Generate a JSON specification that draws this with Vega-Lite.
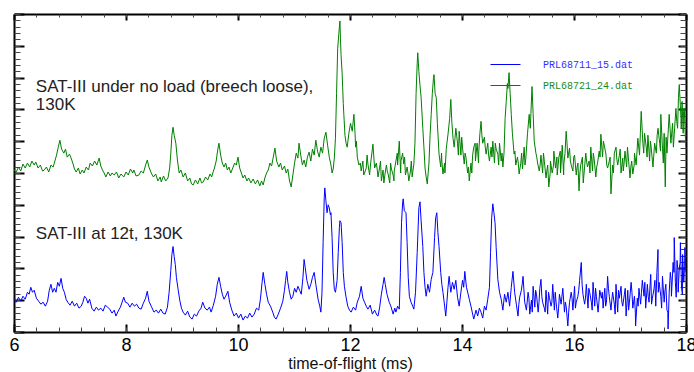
{
"$schema": "https://vega.github.io/schema/vega-lite/v6.json",
"width": 672, "height": 318,
"autosize": {"type": "none"},
"padding": {"left": 14, "top": 14, "right": 8, "bottom": 40},
"config": {"view": {"stroke": null}, "font": "Liberation Sans", "axis": {"grid": false, "tickColor": "#000", "domainColor": "#000"}},
"resolve": {"axis": {"x": "independent", "y": "independent"}},
"layer": [
{"data": {"values": [
{"t":6.00,"v":33},{"t":6.04,"v":30},{"t":6.08,"v":35},{"t":6.12,"v":31},{"t":6.16,"v":36},{"t":6.20,"v":33},{"t":6.24,"v":40},{"t":6.27,"v":38},{"t":6.30,"v":45},{"t":6.33,"v":40},{"t":6.36,"v":42},{"t":6.40,"v":34},{"t":6.44,"v":31},{"t":6.48,"v":28},{"t":6.52,"v":30},{"t":6.56,"v":26},{"t":6.60,"v":31},{"t":6.63,"v":42},{"t":6.66,"v":48},{"t":6.69,"v":40},{"t":6.72,"v":44},{"t":6.75,"v":40},{"t":6.78,"v":50},{"t":6.81,"v":46},{"t":6.84,"v":54},{"t":6.87,"v":44},{"t":6.90,"v":40},{"t":6.93,"v":33},{"t":6.96,"v":30},{"t":7.00,"v":27},{"t":7.04,"v":31},{"t":7.08,"v":26},{"t":7.12,"v":29},{"t":7.16,"v":24},{"t":7.20,"v":26},{"t":7.23,"v":30},{"t":7.26,"v":36},{"t":7.29,"v":34},{"t":7.32,"v":29},{"t":7.35,"v":33},{"t":7.39,"v":24},{"t":7.43,"v":21},{"t":7.47,"v":25},{"t":7.51,"v":22},{"t":7.55,"v":24},{"t":7.59,"v":21},{"t":7.63,"v":27},{"t":7.67,"v":25},{"t":7.71,"v":23},{"t":7.75,"v":19},{"t":7.79,"v":22},{"t":7.82,"v":16},{"t":7.86,"v":21},{"t":7.90,"v":25},{"t":7.93,"v":30},{"t":7.96,"v":35},{"t":7.99,"v":30},{"t":8.03,"v":29},{"t":8.07,"v":25},{"t":8.11,"v":29},{"t":8.15,"v":26},{"t":8.19,"v":28},{"t":8.23,"v":24},{"t":8.27,"v":23},{"t":8.31,"v":29},{"t":8.35,"v":34},{"t":8.38,"v":41},{"t":8.41,"v":31},{"t":8.45,"v":26},{"t":8.50,"v":20},{"t":8.54,"v":22},{"t":8.58,"v":19},{"t":8.62,"v":23},{"t":8.66,"v":19},{"t":8.70,"v":18},{"t":8.74,"v":25},{"t":8.77,"v":40},{"t":8.80,"v":62},{"t":8.82,"v":78},{"t":8.84,"v":86},{"t":8.86,"v":76},{"t":8.88,"v":68},{"t":8.90,"v":55},{"t":8.93,"v":43},{"t":8.96,"v":32},{"t":8.99,"v":24},{"t":9.02,"v":20},{"t":9.06,"v":17},{"t":9.10,"v":21},{"t":9.14,"v":15},{"t":9.18,"v":13},{"t":9.22,"v":18},{"t":9.26,"v":16},{"t":9.30,"v":21},{"t":9.34,"v":24},{"t":9.37,"v":30},{"t":9.41,"v":24},{"t":9.45,"v":22},{"t":9.49,"v":25},{"t":9.52,"v":20},{"t":9.56,"v":27},{"t":9.60,"v":36},{"t":9.63,"v":48},{"t":9.66,"v":55},{"t":9.69,"v":46},{"t":9.72,"v":38},{"t":9.75,"v":33},{"t":9.78,"v":36},{"t":9.82,"v":41},{"t":9.85,"v":30},{"t":9.89,"v":22},{"t":9.93,"v":16},{"t":9.97,"v":19},{"t":10.01,"v":14},{"t":10.05,"v":18},{"t":10.09,"v":12},{"t":10.13,"v":16},{"t":10.17,"v":14},{"t":10.21,"v":19},{"t":10.25,"v":15},{"t":10.29,"v":18},{"t":10.33,"v":24},{"t":10.37,"v":22},{"t":10.40,"v":33},{"t":10.43,"v":50},{"t":10.45,"v":60},{"t":10.48,"v":48},{"t":10.51,"v":38},{"t":10.54,"v":30},{"t":10.58,"v":26},{"t":10.62,"v":20},{"t":10.65,"v":15},{"t":10.68,"v":13},{"t":10.72,"v":18},{"t":10.76,"v":24},{"t":10.80,"v":31},{"t":10.83,"v":42},{"t":10.85,"v":52},{"t":10.87,"v":61},{"t":10.89,"v":50},{"t":10.92,"v":40},{"t":10.95,"v":33},{"t":10.98,"v":36},{"t":11.01,"v":44},{"t":11.04,"v":40},{"t":11.07,"v":46},{"t":11.10,"v":42},{"t":11.13,"v":38},{"t":11.16,"v":55},{"t":11.18,"v":73},{"t":11.20,"v":65},{"t":11.23,"v":52},{"t":11.27,"v":43},{"t":11.30,"v":48},{"t":11.33,"v":55},{"t":11.36,"v":60},{"t":11.39,"v":48},{"t":11.43,"v":33},{"t":11.46,"v":26},{"t":11.48,"v":20},{"t":11.50,"v":40},{"t":11.52,"v":90},{"t":11.54,"v":135},{"t":11.55,"v":145},{"t":11.57,"v":132},{"t":11.59,"v":120},{"t":11.61,"v":128},{"t":11.63,"v":125},{"t":11.65,"v":118},{"t":11.66,"v":120},{"t":11.68,"v":95},{"t":11.70,"v":60},{"t":11.72,"v":43},{"t":11.74,"v":40},{"t":11.77,"v":52},{"t":11.79,"v":80},{"t":11.81,"v":105},{"t":11.82,"v":112},{"t":11.84,"v":110},{"t":11.86,"v":90},{"t":11.88,"v":60},{"t":11.90,"v":46},{"t":11.93,"v":35},{"t":11.96,"v":26},{"t":11.99,"v":22},{"t":12.02,"v":20},{"t":12.06,"v":25},{"t":12.10,"v":22},{"t":12.13,"v":30},{"t":12.17,"v":36},{"t":12.20,"v":46},{"t":12.23,"v":34},{"t":12.26,"v":30},{"t":12.29,"v":26},{"t":12.32,"v":23},{"t":12.36,"v":27},{"t":12.40,"v":18},{"t":12.44,"v":22},{"t":12.48,"v":17},{"t":12.50,"v":16},{"t":12.53,"v":25},{"t":12.56,"v":38},{"t":12.59,"v":48},{"t":12.61,"v":55},{"t":12.63,"v":48},{"t":12.66,"v":38},{"t":12.70,"v":30},{"t":12.73,"v":26},{"t":12.77,"v":18},{"t":12.80,"v":24},{"t":12.82,"v":20},{"t":12.85,"v":26},{"t":12.88,"v":23},{"t":12.90,"v":60},{"t":12.92,"v":110},{"t":12.94,"v":130},{"t":12.95,"v":134},{"t":12.97,"v":122},{"t":13.00,"v":120},{"t":13.02,"v":90},{"t":13.04,"v":55},{"t":13.06,"v":36},{"t":13.09,"v":30},{"t":13.12,"v":26},{"t":13.14,"v":23},{"t":13.17,"v":40},{"t":13.20,"v":80},{"t":13.23,"v":125},{"t":13.25,"v":131},{"t":13.27,"v":112},{"t":13.30,"v":86},{"t":13.32,"v":60},{"t":13.34,"v":45},{"t":13.36,"v":36},{"t":13.39,"v":48},{"t":13.42,"v":40},{"t":13.45,"v":53},{"t":13.48,"v":60},{"t":13.51,"v":95},{"t":13.53,"v":115},{"t":13.55,"v":120},{"t":13.57,"v":100},{"t":13.59,"v":86},{"t":13.62,"v":60},{"t":13.64,"v":48},{"t":13.66,"v":40},{"t":13.69,"v":26},{"t":13.71,"v":16},{"t":13.73,"v":30},{"t":13.75,"v":45},{"t":13.77,"v":56},{"t":13.80,"v":40},{"t":13.83,"v":50},{"t":13.86,"v":43},{"t":13.89,"v":52},{"t":13.92,"v":35},{"t":13.95,"v":26},{"t":13.98,"v":40},{"t":14.01,"v":52},{"t":14.03,"v":45},{"t":14.05,"v":61},{"t":14.08,"v":45},{"t":14.11,"v":38},{"t":14.13,"v":33},{"t":14.16,"v":26},{"t":14.19,"v":18},{"t":14.21,"v":13},{"t":14.25,"v":22},{"t":14.28,"v":16},{"t":14.31,"v":24},{"t":14.34,"v":20},{"t":14.37,"v":14},{"t":14.40,"v":26},{"t":14.43,"v":22},{"t":14.46,"v":33},{"t":14.49,"v":45},{"t":14.51,"v":80},{"t":14.53,"v":115},{"t":14.55,"v":129},{"t":14.57,"v":120},{"t":14.59,"v":110},{"t":14.61,"v":85},{"t":14.64,"v":53},{"t":14.67,"v":40},{"t":14.70,"v":33},{"t":14.73,"v":22},{"t":14.76,"v":38},{"t":14.79,"v":30},{"t":14.82,"v":40},{"t":14.85,"v":26},{"t":14.88,"v":45},{"t":14.91,"v":61},{"t":14.94,"v":40},{"t":14.97,"v":28},{"t":15.00,"v":16},{"t":15.03,"v":35},{"t":15.06,"v":42},{"t":15.09,"v":56},{"t":15.12,"v":30},{"t":15.15,"v":22},{"t":15.18,"v":40},{"t":15.21,"v":18},{"t":15.24,"v":32},{"t":15.27,"v":46},{"t":15.30,"v":25},{"t":15.33,"v":38},{"t":15.36,"v":20},{"t":15.39,"v":44},{"t":15.41,"v":53},{"t":15.44,"v":30},{"t":15.47,"v":24},{"t":15.50,"v":42},{"t":15.53,"v":18},{"t":15.56,"v":35},{"t":15.59,"v":26},{"t":15.62,"v":48},{"t":15.65,"v":22},{"t":15.68,"v":30},{"t":15.71,"v":14},{"t":15.74,"v":38},{"t":15.77,"v":28},{"t":15.80,"v":44},{"t":15.83,"v":20},{"t":15.86,"v":26},{"t":15.89,"v":6},{"t":15.92,"v":30},{"t":15.95,"v":40},{"t":15.98,"v":22},{"t":16.01,"v":46},{"t":16.04,"v":30},{"t":16.07,"v":36},{"t":16.10,"v":52},{"t":16.13,"v":70},{"t":16.16,"v":38},{"t":16.19,"v":28},{"t":16.22,"v":48},{"t":16.25,"v":24},{"t":16.28,"v":40},{"t":16.31,"v":30},{"t":16.34,"v":50},{"t":16.37,"v":26},{"t":16.40,"v":36},{"t":16.43,"v":20},{"t":16.46,"v":42},{"t":16.49,"v":34},{"t":16.52,"v":24},{"t":16.55,"v":44},{"t":16.58,"v":30},{"t":16.60,"v":56},{"t":16.63,"v":36},{"t":16.66,"v":22},{"t":16.69,"v":40},{"t":16.72,"v":28},{"t":16.75,"v":48},{"t":16.78,"v":20},{"t":16.81,"v":34},{"t":16.84,"v":46},{"t":16.87,"v":26},{"t":16.90,"v":38},{"t":16.93,"v":16},{"t":16.96,"v":42},{"t":16.99,"v":30},{"t":17.02,"v":50},{"t":17.05,"v":24},{"t":17.08,"v":36},{"t":17.10,"v":6},{"t":17.13,"v":34},{"t":17.16,"v":44},{"t":17.19,"v":28},{"t":17.22,"v":52},{"t":17.25,"v":36},{"t":17.28,"v":24},{"t":17.31,"v":48},{"t":17.34,"v":30},{"t":17.37,"v":58},{"t":17.40,"v":34},{"t":17.43,"v":44},{"t":17.46,"v":26},{"t":17.48,"v":60},{"t":17.50,"v":83},{"t":17.52,"v":50},{"t":17.55,"v":36},{"t":17.58,"v":56},{"t":17.61,"v":30},{"t":17.64,"v":48},{"t":17.66,"v":22},{"t":17.68,"v":3},{"t":17.70,"v":40},{"t":17.72,"v":60},{"t":17.74,"v":36},{"t":17.77,"v":70},{"t":17.79,"v":95},{"t":17.81,"v":50},{"t":17.84,"v":72},{"t":17.86,"v":40},{"t":17.88,"v":64},{"t":17.90,"v":90},{"t":17.92,"v":45},{"t":17.94,"v":78},{"t":17.96,"v":50},{"t":17.98,"v":85},{"t":18.00,"v":60},
{"t":15.015,"v":28},{"t":15.075,"v":48},{"t":15.135,"v":26},{"t":15.195,"v":34},{"t":15.255,"v":20},{"t":15.315,"v":42},{"t":15.375,"v":30},{"t":15.425,"v":36},{"t":15.485,"v":20},{"t":15.545,"v":40},{"t":15.605,"v":30},{"t":15.665,"v":40},{"t":15.725,"v":24},{"t":15.785,"v":36},{"t":15.845,"v":30},{"t":15.905,"v":20},{"t":15.965,"v":34},{"t":16.025,"v":24},{"t":16.085,"v":42},{"t":16.145,"v":48},{"t":16.205,"v":34},{"t":16.265,"v":44},{"t":16.325,"v":22},{"t":16.385,"v":44},{"t":16.445,"v":30},{"t":16.505,"v":40},{"t":16.565,"v":26},{"t":16.615,"v":44},{"t":16.675,"v":32},{"t":16.735,"v":18},{"t":16.795,"v":42},{"t":16.855,"v":30},{"t":16.915,"v":44},{"t":16.975,"v":22},{"t":17.035,"v":40},{"t":17.095,"v":20},{"t":17.145,"v":26},{"t":17.205,"v":40},{"t":17.265,"v":50},{"t":17.325,"v":36},{"t":17.385,"v":28},{"t":17.445,"v":52},{"t":17.505,"v":40},{"t":17.565,"v":24},{"t":17.625,"v":42},{"t":17.675,"v":20},{"t":17.735,"v":52},{"t":17.785,"v":60},{"t":17.825,"v":35},{"t":17.855,"v":62},{"t":17.895,"v":70},{"t":17.935,"v":38},{"t":17.975,"v":66}
]},
"mark": {"type": "line", "strokeWidth": 1, "clip": true},
"encoding": {
"x": {"field": "t", "type": "quantitative", "scale": {"domain": [6, 18], "nice": false, "zero": false},
 "axis": {"orient": "bottom", "values": [6,8,10,12,14,16,18], "tickSize": -8, "tickWidth": 2, "domainWidth": 2, "labelPadding": 12, "labelFlush": false, "labelBound": false, "labelFontSize": 18, "labelColor": "#000", "labelFont": "Liberation Sans", "title": "time-of-flight (ms)", "titleFontSize": 16, "titleFontWeight": "normal", "titleColor": "#111", "titleFont": "Liberation Sans", "titlePadding": 1}},
"y": {"field": "v", "type": "quantitative", "scale": {"domain": [0, 320], "nice": false, "zero": false},
 "axis": {"orient": "left", "values": [0,32,64,96,128,160,192,224,256,288,320], "tickSize": -10, "tickWidth": 2, "domainWidth": 2, "labels": false, "title": null}},
"color": {"datum": "PRL68711_15.dat", "type": "nominal",
 "scale": {"domain": ["PRL68711_15.dat", "PRL68721_24.dat"], "range": ["#0000ff", "#008000"]},
 "legend": {"orient": "none", "legendX": 476, "legendY": 35, "title": null, "symbolType": "stroke", "symbolSize": 900, "symbolStrokeWidth": 1, "labelFont": "Liberation Mono", "labelFontSize": 10, "labelOffset": 22, "rowPadding": -15, "padding": 0, "labelColor": {"expr": "datum.value == 'PRL68711_15.dat' ? '#3030ff' : '#1a8a1a'"}}}
}},
{"data": {"values": [
{"t":6.00,"v":163},{"t":6.04,"v":161},{"t":6.08,"v":166},{"t":6.12,"v":162},{"t":6.16,"v":169},{"t":6.20,"v":165},{"t":6.24,"v":170},{"t":6.28,"v":166},{"t":6.32,"v":172},{"t":6.36,"v":168},{"t":6.39,"v":171},{"t":6.43,"v":165},{"t":6.47,"v":168},{"t":6.51,"v":162},{"t":6.54,"v":163},{"t":6.58,"v":166},{"t":6.62,"v":161},{"t":6.66,"v":168},{"t":6.70,"v":166},{"t":6.73,"v":172},{"t":6.76,"v":178},{"t":6.79,"v":186},{"t":6.82,"v":193},{"t":6.85,"v":184},{"t":6.89,"v":180},{"t":6.92,"v":184},{"t":6.95,"v":176},{"t":6.99,"v":179},{"t":7.02,"v":175},{"t":7.05,"v":170},{"t":7.08,"v":164},{"t":7.11,"v":161},{"t":7.15,"v":165},{"t":7.18,"v":159},{"t":7.22,"v":163},{"t":7.25,"v":160},{"t":7.29,"v":166},{"t":7.33,"v":163},{"t":7.36,"v":170},{"t":7.40,"v":167},{"t":7.44,"v":172},{"t":7.48,"v":168},{"t":7.52,"v":175},{"t":7.55,"v":167},{"t":7.58,"v":163},{"t":7.61,"v":160},{"t":7.64,"v":156},{"t":7.68,"v":161},{"t":7.72,"v":157},{"t":7.75,"v":160},{"t":7.79,"v":158},{"t":7.83,"v":161},{"t":7.87,"v":155},{"t":7.91,"v":159},{"t":7.96,"v":156},{"t":8.00,"v":161},{"t":8.04,"v":158},{"t":8.08,"v":164},{"t":8.12,"v":160},{"t":8.14,"v":163},{"t":8.18,"v":157},{"t":8.23,"v":158},{"t":8.27,"v":162},{"t":8.31,"v":160},{"t":8.35,"v":168},{"t":8.38,"v":173},{"t":8.41,"v":166},{"t":8.45,"v":160},{"t":8.49,"v":156},{"t":8.53,"v":159},{"t":8.57,"v":152},{"t":8.61,"v":156},{"t":8.63,"v":151},{"t":8.67,"v":157},{"t":8.71,"v":152},{"t":8.75,"v":155},{"t":8.78,"v":165},{"t":8.80,"v":180},{"t":8.82,"v":198},{"t":8.84,"v":206},{"t":8.86,"v":198},{"t":8.89,"v":190},{"t":8.92,"v":172},{"t":8.95,"v":160},{"t":8.98,"v":163},{"t":9.02,"v":156},{"t":9.06,"v":160},{"t":9.10,"v":152},{"t":9.14,"v":155},{"t":9.17,"v":149},{"t":9.20,"v":148},{"t":9.24,"v":153},{"t":9.28,"v":149},{"t":9.32,"v":155},{"t":9.35,"v":150},{"t":9.38,"v":151},{"t":9.42,"v":156},{"t":9.46,"v":153},{"t":9.50,"v":159},{"t":9.53,"v":156},{"t":9.55,"v":160},{"t":9.58,"v":165},{"t":9.61,"v":172},{"t":9.64,"v":184},{"t":9.66,"v":190},{"t":9.69,"v":178},{"t":9.72,"v":170},{"t":9.75,"v":166},{"t":9.78,"v":170},{"t":9.81,"v":163},{"t":9.84,"v":166},{"t":9.87,"v":160},{"t":9.90,"v":164},{"t":9.94,"v":170},{"t":9.97,"v":168},{"t":10.00,"v":176},{"t":10.03,"v":165},{"t":10.06,"v":160},{"t":10.09,"v":155},{"t":10.12,"v":158},{"t":10.16,"v":152},{"t":10.19,"v":155},{"t":10.23,"v":150},{"t":10.27,"v":154},{"t":10.31,"v":149},{"t":10.35,"v":153},{"t":10.39,"v":147},{"t":10.42,"v":152},{"t":10.45,"v":148},{"t":10.48,"v":155},{"t":10.51,"v":160},{"t":10.54,"v":163},{"t":10.57,"v":170},{"t":10.60,"v":167},{"t":10.63,"v":176},{"t":10.66,"v":185},{"t":10.69,"v":172},{"t":10.73,"v":166},{"t":10.76,"v":170},{"t":10.79,"v":163},{"t":10.83,"v":167},{"t":10.86,"v":160},{"t":10.89,"v":164},{"t":10.92,"v":152},{"t":10.95,"v":146},{"t":10.98,"v":158},{"t":11.01,"v":170},{"t":11.04,"v":180},{"t":11.07,"v":175},{"t":11.09,"v":190},{"t":11.12,"v":178},{"t":11.15,"v":168},{"t":11.18,"v":173},{"t":11.21,"v":166},{"t":11.24,"v":176},{"t":11.27,"v":181},{"t":11.30,"v":172},{"t":11.33,"v":184},{"t":11.36,"v":178},{"t":11.39,"v":193},{"t":11.42,"v":182},{"t":11.45,"v":176},{"t":11.48,"v":186},{"t":11.51,"v":180},{"t":11.54,"v":195},{"t":11.57,"v":201},{"t":11.60,"v":188},{"t":11.63,"v":176},{"t":11.66,"v":168},{"t":11.68,"v":160},{"t":11.70,"v":164},{"t":11.72,"v":175},{"t":11.74,"v":195},{"t":11.76,"v":240},{"t":11.78,"v":285},{"t":11.80,"v":300},{"t":11.82,"v":313},{"t":11.83,"v":295},{"t":11.84,"v":279},{"t":11.86,"v":260},{"t":11.88,"v":230},{"t":11.89,"v":219},{"t":11.91,"v":198},{"t":11.93,"v":190},{"t":11.95,"v":186},{"t":11.98,"v":200},{"t":12.01,"v":210},{"t":12.04,"v":202},{"t":12.07,"v":219},{"t":12.09,"v":200},{"t":12.10,"v":186},{"t":12.13,"v":176},{"t":12.16,"v":168},{"t":12.20,"v":162},{"t":12.23,"v":172},{"t":12.26,"v":160},{"t":12.29,"v":165},{"t":12.32,"v":169},{"t":12.35,"v":158},{"t":12.38,"v":175},{"t":12.41,"v":189},{"t":12.44,"v":165},{"t":12.47,"v":170},{"t":12.50,"v":156},{"t":12.53,"v":166},{"t":12.56,"v":152},{"t":12.59,"v":163},{"t":12.62,"v":157},{"t":12.65,"v":168},{"t":12.68,"v":159},{"t":12.71,"v":150},{"t":12.74,"v":164},{"t":12.77,"v":158},{"t":12.79,"v":162},{"t":12.82,"v":172},{"t":12.85,"v":168},{"t":12.88,"v":192},{"t":12.91,"v":172},{"t":12.94,"v":180},{"t":12.96,"v":169},{"t":12.99,"v":158},{"t":13.02,"v":166},{"t":13.05,"v":152},{"t":13.08,"v":162},{"t":13.11,"v":156},{"t":13.14,"v":169},{"t":13.16,"v":190},{"t":13.18,"v":240},{"t":13.20,"v":270},{"t":13.21,"v":281},{"t":13.23,"v":262},{"t":13.25,"v":248},{"t":13.27,"v":236},{"t":13.30,"v":205},{"t":13.32,"v":186},{"t":13.34,"v":165},{"t":13.36,"v":156},{"t":13.38,"v":149},{"t":13.41,"v":170},{"t":13.43,"v":198},{"t":13.45,"v":219},{"t":13.47,"v":240},{"t":13.49,"v":255},{"t":13.50,"v":259},{"t":13.52,"v":240},{"t":13.54,"v":236},{"t":13.56,"v":210},{"t":13.59,"v":179},{"t":13.62,"v":166},{"t":13.64,"v":172},{"t":13.66,"v":159},{"t":13.69,"v":170},{"t":13.72,"v":185},{"t":13.75,"v":199},{"t":13.78,"v":215},{"t":13.80,"v":234},{"t":13.82,"v":210},{"t":13.84,"v":195},{"t":13.86,"v":186},{"t":13.89,"v":205},{"t":13.92,"v":190},{"t":13.95,"v":202},{"t":13.98,"v":178},{"t":14.01,"v":185},{"t":14.04,"v":169},{"t":14.07,"v":176},{"t":14.10,"v":160},{"t":14.13,"v":152},{"t":14.16,"v":170},{"t":14.19,"v":178},{"t":14.21,"v":186},{"t":14.24,"v":172},{"t":14.27,"v":190},{"t":14.30,"v":182},{"t":14.32,"v":200},{"t":14.34,"v":212},{"t":14.37,"v":190},{"t":14.40,"v":196},{"t":14.43,"v":179},{"t":14.46,"v":190},{"t":14.49,"v":172},{"t":14.52,"v":186},{"t":14.55,"v":192},{"t":14.58,"v":170},{"t":14.61,"v":184},{"t":14.64,"v":179},{"t":14.67,"v":190},{"t":14.70,"v":172},{"t":14.73,"v":166},{"t":14.75,"v":180},{"t":14.77,"v":215},{"t":14.79,"v":232},{"t":14.81,"v":250},{"t":14.82,"v":245},{"t":14.84,"v":261},{"t":14.86,"v":240},{"t":14.88,"v":219},{"t":14.90,"v":200},{"t":14.93,"v":179},{"t":14.96,"v":168},{"t":14.99,"v":176},{"t":15.02,"v":159},{"t":15.05,"v":170},{"t":15.08,"v":164},{"t":15.11,"v":186},{"t":15.14,"v":175},{"t":15.17,"v":200},{"t":15.20,"v":219},{"t":15.22,"v":205},{"t":15.25,"v":247},{"t":15.27,"v":220},{"t":15.29,"v":192},{"t":15.32,"v":180},{"t":15.35,"v":170},{"t":15.38,"v":162},{"t":15.41,"v":178},{"t":15.44,"v":160},{"t":15.47,"v":172},{"t":15.50,"v":155},{"t":15.53,"v":168},{"t":15.55,"v":146},{"t":15.58,"v":172},{"t":15.61,"v":160},{"t":15.64,"v":182},{"t":15.67,"v":165},{"t":15.70,"v":158},{"t":15.73,"v":176},{"t":15.76,"v":160},{"t":15.79,"v":188},{"t":15.82,"v":170},{"t":15.84,"v":180},{"t":15.86,"v":202},{"t":15.89,"v":175},{"t":15.92,"v":185},{"t":15.95,"v":168},{"t":15.98,"v":162},{"t":16.01,"v":178},{"t":16.04,"v":158},{"t":16.07,"v":170},{"t":16.09,"v":142},{"t":16.12,"v":168},{"t":16.15,"v":176},{"t":16.18,"v":160},{"t":16.21,"v":180},{"t":16.24,"v":166},{"t":16.27,"v":172},{"t":16.30,"v":186},{"t":16.33,"v":162},{"t":16.36,"v":174},{"t":16.39,"v":156},{"t":16.42,"v":170},{"t":16.45,"v":182},{"t":16.48,"v":199},{"t":16.51,"v":176},{"t":16.54,"v":188},{"t":16.57,"v":179},{"t":16.60,"v":165},{"t":16.63,"v":172},{"t":16.66,"v":139},{"t":16.69,"v":168},{"t":16.72,"v":180},{"t":16.75,"v":186},{"t":16.78,"v":168},{"t":16.81,"v":178},{"t":16.84,"v":160},{"t":16.87,"v":175},{"t":16.88,"v":162},{"t":16.91,"v":182},{"t":16.94,"v":166},{"t":16.97,"v":176},{"t":17.00,"v":155},{"t":17.03,"v":172},{"t":17.05,"v":159},{"t":17.08,"v":180},{"t":17.11,"v":168},{"t":17.14,"v":195},{"t":17.17,"v":178},{"t":17.20,"v":222},{"t":17.23,"v":190},{"t":17.26,"v":200},{"t":17.29,"v":186},{"t":17.32,"v":198},{"t":17.35,"v":172},{"t":17.38,"v":185},{"t":17.41,"v":166},{"t":17.44,"v":190},{"t":17.47,"v":180},{"t":17.50,"v":205},{"t":17.53,"v":190},{"t":17.55,"v":219},{"t":17.58,"v":185},{"t":17.61,"v":200},{"t":17.63,"v":146},{"t":17.66,"v":180},{"t":17.68,"v":200},{"t":17.70,"v":219},{"t":17.73,"v":190},{"t":17.76,"v":210},{"t":17.79,"v":199},{"t":17.82,"v":225},{"t":17.85,"v":205},{"t":17.88,"v":249},{"t":17.91,"v":215},{"t":17.93,"v":232},{"t":17.95,"v":200},{"t":17.97,"v":225},{"t":18.00,"v":186},
{"t":12.115,"v":192},{"t":12.185,"v":170},{"t":12.245,"v":158},{"t":12.305,"v":178},{"t":12.365,"v":168},{"t":12.425,"v":176},{"t":12.485,"v":164},{"t":12.545,"v":172},{"t":12.605,"v":150},{"t":12.665,"v":162},{"t":12.725,"v":170},{"t":12.785,"v":152},{"t":12.845,"v":180},{"t":12.905,"v":160},{"t":12.975,"v":176},{"t":13.035,"v":160},{"t":13.095,"v":172},{"t":13.635,"v":180},{"t":13.695,"v":160},{"t":13.875,"v":195},{"t":13.935,"v":178},{"t":13.995,"v":196},{"t":14.055,"v":180},{"t":14.115,"v":166},{"t":14.175,"v":160},{"t":14.235,"v":190},{"t":14.295,"v":170},{"t":14.355,"v":198},{"t":14.415,"v":186},{"t":14.475,"v":178},{"t":14.535,"v":176},{"t":14.595,"v":190},{"t":14.655,"v":168},{"t":14.715,"v":180},{"t":14.945,"v":182},{"t":15.005,"v":170},{"t":15.065,"v":180},{"t":15.125,"v":168},{"t":15.335,"v":176},{"t":15.395,"v":168},{"t":15.455,"v":180},{"t":15.515,"v":162},{"t":15.575,"v":160},{"t":15.635,"v":168},{"t":15.695,"v":176},{"t":15.755,"v":182},{"t":15.815,"v":158},{"t":15.875,"v":190},{"t":15.935,"v":172},{"t":15.995,"v":176},{"t":16.055,"v":166},{"t":16.105,"v":160},{"t":16.165,"v":150},{"t":16.225,"v":172},{"t":16.285,"v":160},{"t":16.345,"v":180},{"t":16.405,"v":166},{"t":16.465,"v":176},{"t":16.525,"v":192},{"t":16.585,"v":168},{"t":16.645,"v":176},{"t":16.705,"v":160},{"t":16.765,"v":174},{"t":16.825,"v":184},{"t":16.895,"v":170},{"t":16.955,"v":186},{"t":17.015,"v":166},{"t":17.075,"v":168},{"t":17.125,"v":182},{"t":17.185,"v":200},{"t":17.245,"v":180},{"t":17.305,"v":176},{"t":17.365,"v":192},{"t":17.425,"v":178},{"t":17.485,"v":198},{"t":17.545,"v":182},{"t":17.595,"v":170},{"t":17.645,"v":196},{"t":17.715,"v":205},{"t":17.775,"v":186},{"t":17.835,"v":212},{"t":17.865,"v":236},{"t":17.915,"v":205},{"t":17.955,"v":222},{"t":17.985,"v":200}
]},
"mark": {"type": "line", "strokeWidth": 1, "clip": true},
"encoding": {
"x": {"field": "t", "type": "quantitative", "scale": {"domain": [6, 18], "nice": false, "zero": false},
 "axis": {"orient": "bottom", "values": [6,6.4,6.8,7.2,7.6,8,8.4,8.8,9.2,9.6,10,10.4,10.8,11.2,11.6,12,12.4,12.8,13.2,13.6,14,14.4,14.8,15.2,15.6,16,16.4,16.8,17.2,17.6,18], "tickSize": -5, "tickWidth": 1, "tickColor": "#444", "domain": false, "labels": false, "title": null}},
"y": {"field": "v", "type": "quantitative", "scale": {"domain": [0, 320], "nice": false, "zero": false},
 "axis": {"orient": "left", "values": [0,6.4,12.8,19.2,25.6,32,38.4,44.8,51.2,57.6,64,70.4,76.8,83.2,89.6,96,102.4,108.8,115.2,121.6,128,134.4,140.8,147.2,153.6,160,166.4,172.8,179.2,185.6,192,198.4,204.8,211.2,217.6,224,230.4,236.8,243.2,249.6,256,262.4,268.8,275.2,281.6,288,294.4,300.8,307.2,313.6,320], "tickSize": -6, "tickWidth": 1, "tickColor": "#444", "domain": false, "labels": false, "title": null}},
"color": {"datum": "PRL68721_24.dat", "type": "nominal"}
}},
{"data": {"values": [{}]},
"mark": {"type": "text", "text": ["SAT-III under no load (breech loose),", "130K"], "align": "left", "baseline": "alphabetic", "fontSize": 17, "lineHeight": 18, "font": "Liberation Sans", "color": "#222"},
"encoding": {
"x": {"datum": 6.39, "type": "quantitative", "scale": {"domain": [6, 18], "nice": false, "zero": false},
 "axis": {"orient": "top", "values": [6,8,10,12,14,16,18], "tickSize": -6, "tickWidth": 2, "domainWidth": 2, "labels": false, "title": null}},
"y": {"datum": 242, "type": "quantitative", "scale": {"domain": [0, 320], "nice": false, "zero": false},
 "axis": {"orient": "right", "values": [0,32,64,96,128,160,192,224,256,288,320], "tickSize": -8, "tickWidth": 2, "domainWidth": 2, "labels": false, "title": null}}
}},
{"data": {"values": [{}]},
"mark": {"type": "text", "text": "SAT-III at 12t, 130K", "align": "left", "baseline": "alphabetic", "fontSize": 17, "font": "Liberation Sans", "color": "#222"},
"encoding": {
"x": {"datum": 6.39, "type": "quantitative", "scale": {"domain": [6, 18], "nice": false, "zero": false},
 "axis": {"orient": "top", "values": [6,6.4,6.8,7.2,7.6,8,8.4,8.8,9.2,9.6,10,10.4,10.8,11.2,11.6,12,12.4,12.8,13.2,13.6,14,14.4,14.8,15.2,15.6,16,16.4,16.8,17.2,17.6,18], "tickSize": -3, "tickWidth": 1, "tickColor": "#444", "domain": false, "labels": false, "title": null}},
"y": {"datum": 94, "type": "quantitative", "scale": {"domain": [0, 320], "nice": false, "zero": false},
 "axis": {"orient": "right", "values": [0,6.4,12.8,19.2,25.6,32,38.4,44.8,51.2,57.6,64,70.4,76.8,83.2,89.6,96,102.4,108.8,115.2,121.6,128,134.4,140.8,147.2,153.6,160,166.4,172.8,179.2,185.6,192,198.4,204.8,211.2,217.6,224,230.4,236.8,243.2,249.6,256,262.4,268.8,275.2,281.6,288,294.4,300.8,307.2,313.6,320], "tickSize": -6, "tickWidth": 1, "tickColor": "#444", "domain": false, "labels": false, "title": null}}
}}
]
}
